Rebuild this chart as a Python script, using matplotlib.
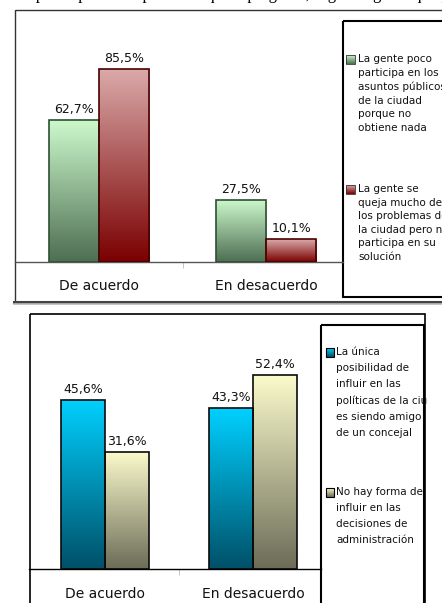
import numpy as np
import matplotlib.pyplot as plt
from matplotlib.patches import Rectangle
from matplotlib.colors import LinearSegmentedColormap
from matplotlib.transforms import Bbox, TransformedBbox

W, H = 442, 603

categorias_top = ['De acuerdo', 'En desacuerdo']
poco_participa = [62.7, 27.5]
se_queja = [85.5, 10.1]
leyenda_top = ['La gente poco\nparticipa en los\nasuntos públicos\nde la ciudad\nporque no\nobtiene nada',
               'La gente se\nqueja mucho de\nlos problemas de\nla ciudad pero no\nparticipa en su\nsolución']

categorias_bot = ['De acuerdo', 'En desacuerdo']
unica_posibilidad = [45.6, 43.3]
no_hay_forma = [31.6, 52.4]
leyenda_bot = ['La única\nposibilidad de\ninfluir en las\npolíticas de la ciudad\nes siendo amigo\nde un concejal',
               'No hay forma de\ninfluir en las\ndecisiones de\nadministración']

# gradient colours (top -> bottom)
grad_green = ('#ccf9cc', '#4e6e52')
grad_red = ('#dbaaaa', '#7a0000')
grad_blue = ('#00d0ff', '#005068')
grad_yellow = ('#fbfbcc', '#6c6c58')

fig = plt.figure(figsize=(W / 100, H / 100), dpi=100)
fig.patch.set_facecolor('white')

# overlay in pixel coordinates for frames and legends
ov = fig.add_axes([0, 0, 1, 1], zorder=0)
ov.set_xlim(0, W)
ov.set_ylim(H, 0)
ov.axis('off')


def px_axes(l, t, r, b):
    a = fig.add_axes([l / W, 1 - b / H, (r - l) / W, (b - t) / H], zorder=2)
    a.patch.set_alpha(0)
    return a


def grad_bars(ax, xs, vals, width, colors, edge):
    bars = ax.bar(xs, vals, width, color='none', edgecolor=edge, linewidth=1.2, zorder=3)
    cmap = LinearSegmentedColormap.from_list('g', [colors[1], colors[0]])
    g = np.linspace(0, 1, 256).reshape(-1, 1)
    for b in bars:
        x0, w, h = b.get_x(), b.get_width(), b.get_height()
        im = ax.imshow(g, extent=[x0, x0 + w, 0, h], origin='lower', aspect='auto',
                       cmap=cmap, zorder=2)
        im.set_clip_path(b)
    return bars


def labels(ax, xs, vals, fs):
    for x, v in zip(xs, vals):
        ax.annotate(f'{v:.1f}%'.replace('.', ','), (x, v), xytext=(0, 3),
                    textcoords='offset points', ha='center', va='bottom',
                    fontsize=fs, color='#111111')


def style_axis(ax, cats, pad, fs):
    for s in ['top', 'left', 'right']:
        ax.spines[s].set_visible(False)
    ax.spines['bottom'].set_color('#555555')
    ax.spines['bottom'].set_linewidth(1)
    ax.set_yticks([])
    ax.set_xticks([0, 1], cats, fontsize=fs, color='#111111')
    ax.tick_params(axis='x', which='major', length=0, pad=pad)
    ax.set_xticks([0.5], minor=True)
    ax.tick_params(axis='x', which='minor', length=4, color='#bbbbbb')


# stray text line of the scanned page above the chart (only descenders visible)
ov.text(221, -1, 'opinan que la participación depende de quien pregunta, según la gente que participa',
        ha='center', va='baseline', fontsize=12, family='Liberation Serif', color='black')

# ---------- top chart ----------
ov.add_patch(Rectangle((14.5, 9.5), 440, 292, fill=False, edgecolor='#333333', lw=1))
ov.plot([14, W], [302, 302], color='#444444', lw=2.2)
ov.plot([14, W], [304, 304], color='#bbbbbb', lw=1.2)

ax1 = px_axes(15, 21, 343, 262)
ax1.set_autoscale_on(False)
ax1.set_xlim(-0.503, 1.461)
ax1.set_ylim(0, 106.6)
x = np.arange(len(categorias_top))
bw = 0.3
grad_bars(ax1, x - bw / 2, poco_participa, bw, grad_green, '#2f4f33')
grad_bars(ax1, x + bw / 2, se_queja, bw, grad_red, '#4a0000')
labels(ax1, x - bw / 2, poco_participa, 9)
labels(ax1, x + bw / 2, se_queja, 9)
style_axis(ax1, categorias_top, 12, 10)

# legend top
ov.add_patch(Rectangle((343, 21), 120, 276, fill=False, edgecolor='black', lw=1.5))
clip1 = TransformedBbox(Bbox.from_extents(345, 22, W, 296), ov.transData)
for yy, txt, cols in [(55, leyenda_top[0], grad_green), (185, leyenda_top[1], grad_red)]:
    cm = LinearSegmentedColormap.from_list('l', [cols[1], cols[0]])
    ov.imshow(np.linspace(0, 1, 32).reshape(-1, 1), extent=[346, 355, yy + 9, yy], origin='lower',
              aspect='auto', cmap=cm, zorder=3)
    ov.add_patch(Rectangle((346, yy), 9, 9, fill=False, edgecolor='#333333', lw=0.6, zorder=4))
    t = ov.text(358, yy - 1, txt, fontsize=7.5, va='top', ha='left', linespacing=1.45,
                color='#111111', clip_on=True)
    t.set_clip_box(clip1)
ov.set_xlim(0, W)
ov.set_ylim(H, 0)

# ---------- bottom chart ----------
ov.add_patch(Rectangle((29.5, 313.5), 395, 300, fill=False, edgecolor='black', lw=1.2))

ax2 = px_axes(29, 325, 321, 569)
ax2.set_autoscale_on(False)
ax2.set_xlim(-0.514, 1.459)
ax2.set_ylim(0, 65.8)
x = np.arange(len(categorias_bot))
bw = 0.297
grad_bars(ax2, x - bw / 2, unica_posibilidad, bw, grad_blue, '#0a0a0a')
grad_bars(ax2, x + bw / 2, no_hay_forma, bw, grad_yellow, '#0a0a0a')
labels(ax2, x - bw / 2, unica_posibilidad, 9)
labels(ax2, x + bw / 2, no_hay_forma, 9)
style_axis(ax2, categorias_bot, 13, 10)
ax2.spines['bottom'].set_color('black')

# legend bottom
ov.add_patch(Rectangle((321, 325), 103, 290, fill=False, edgecolor='black', lw=1.5))
clip2 = TransformedBbox(Bbox.from_extents(323, 326, 428, 603), ov.transData)
for yy, txt, cols in [(348, leyenda_bot[0], grad_blue), (488, leyenda_bot[1], grad_yellow)]:
    cm = LinearSegmentedColormap.from_list('l', [cols[1], cols[0]])
    ov.imshow(np.linspace(0, 1, 32).reshape(-1, 1), extent=[326, 334, yy + 9, yy], origin='lower',
              aspect='auto', cmap=cm, zorder=3)
    ov.add_patch(Rectangle((326, yy), 8, 9, fill=False, edgecolor='black', lw=0.8, zorder=4))
    t = ov.text(336, yy - 1, txt, fontsize=7.5, va='top', ha='left', linespacing=1.75,
                color='#111111', clip_on=True)
    t.set_clip_box(clip2)
ov.set_xlim(0, W)
ov.set_ylim(H, 0)

fig.savefig('out.png', dpi=100)
